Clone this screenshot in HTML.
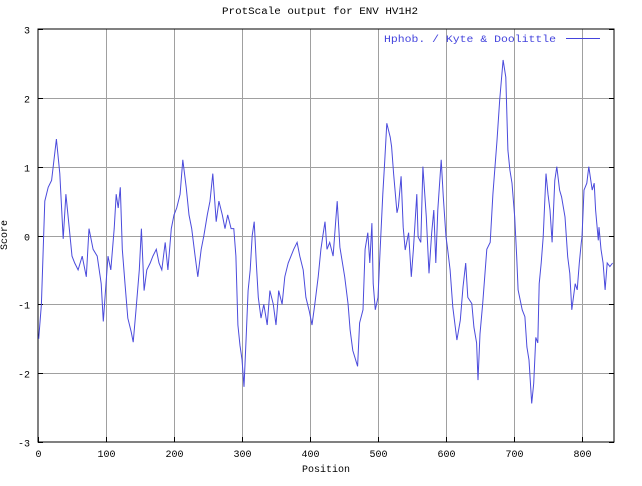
<!DOCTYPE html>
<html><head><meta charset="utf-8"><style>
body{margin:0;background:#fff;}
svg text{font-family:"Liberation Mono",monospace;font-size:10px;fill:#000;}
</style></head><body>
<svg width="642" height="481" xmlns="http://www.w3.org/2000/svg">
<g id="grid"></g>
<rect x="38" y="29" width="576" height="413" fill="none" stroke="#000" stroke-width="1"/>
<g id="axes"></g>
<text x="222" y="14" textLength="196" lengthAdjust="spacingAndGlyphs">ProtScale output for ENV HV1H2</text>
<text x="326" y="472" text-anchor="middle">Position</text>
<text x="7" y="235" text-anchor="middle" transform="rotate(-90 7 235)">Score</text>
<g>
<text x="384" y="42" textLength="172" lengthAdjust="spacingAndGlyphs" style="fill:#4444dd">Hphob. / Kyte &amp; Doolittle</text>
<line x1="566" y1="38.5" x2="600" y2="38.5" stroke="#4444dd" stroke-width="1"/>
</g>
<path id="series" fill="none" stroke="#4b4bdc" stroke-width="1"/>
</svg>
<script>
const xTicks=[0,100,200,300,400,500,600,700,800];
const yTicks=[-3,-2,-1,0,1,2,3];
const positions=[1,5,10,15,20,27,32,37,41,46,50,54,59,65,71,75,81,87,93,96,100,103,107,112,115,118,121,124,128,132,137,140,144,149,152,156,160,165,169,174,178,182,187,191,196,200,204,209,213,218,222,226,231,235,240,244,249,253,257,262,266,271,275,279,284,288,291,294,297,300,303,306,309,312,315,318,321,324,328,332,337,341,346,350,354,359,363,368,372,376,381,385,390,394,399,403,407,412,416,419,422,425,429,434,440,444,451,456,459,463,470,473,478,481,485,488,491,493,496,500,503,507,510,513,518,520,523,528,530,534,537,540,545,549,552,557,559,563,566,571,575,579,582,585,588,593,596,600,602,606,610,616,621,625,629,632,638,641,645,647,650,654,660,665,669,675,679,684,688,691,694,697,701,704,706,712,716,719,722,726,729,732,735,737,740,743,747,750,753,756,760,763,767,770,775,779,782,785,790,793,796,799,800,803,807,810,815,818,820,824,825,828,831,834,837,841,845];
const scores=[-1.5,-1.0,0.5,0.7,0.8,1.4,0.9,-0.05,0.6,0.1,-0.3,-0.4,-0.5,-0.3,-0.6,0.1,-0.2,-0.3,-0.7,-1.25,-0.7,-0.3,-0.5,0.1,0.6,0.4,0.7,-0.2,-0.7,-1.2,-1.4,-1.55,-1.1,-0.5,0.1,-0.8,-0.5,-0.4,-0.3,-0.2,-0.4,-0.5,-0.1,-0.5,0.1,0.3,0.4,0.6,1.1,0.7,0.3,0.1,-0.3,-0.6,-0.2,0.0,0.3,0.5,0.9,0.2,0.5,0.3,0.1,0.3,0.1,0.1,-0.3,-1.3,-1.6,-1.8,-2.2,-1.5,-0.8,-0.5,0.0,0.2,-0.4,-0.9,-1.2,-1.0,-1.3,-0.8,-1.0,-1.3,-0.8,-1.0,-0.6,-0.4,-0.3,-0.2,-0.1,-0.3,-0.5,-0.9,-1.1,-1.3,-1.0,-0.6,-0.2,0.0,0.2,-0.2,-0.1,-0.3,0.5,-0.17,-0.6,-1.0,-1.37,-1.67,-1.9,-1.27,-1.08,-0.2,0.04,-0.4,0.18,-0.7,-1.08,-0.9,-0.25,0.6,1.1,1.63,1.43,1.29,0.9,0.33,0.42,0.86,0.12,-0.21,0.04,-0.6,-0.2,0.6,-0.02,-0.1,1.0,0.27,-0.55,0.04,0.37,-0.4,0.37,1.1,0.56,-0.02,-0.17,-0.5,-1.04,-1.52,-1.23,-0.75,-0.4,-0.9,-0.99,-1.33,-1.56,-2.1,-1.43,-0.99,-0.2,-0.1,0.6,1.38,1.97,2.55,2.3,1.24,0.95,0.76,0.27,-0.31,-0.79,-1.08,-1.18,-1.62,-1.81,-2.44,-2.15,-1.48,-1.56,-0.7,-0.4,-0.02,0.9,0.6,0.37,-0.1,0.8,1.0,0.66,0.56,0.27,-0.31,-0.55,-1.08,-0.7,-0.79,-0.4,-0.1,-0.02,0.66,0.76,1.0,0.66,0.76,0.37,-0.07,0.12,-0.2,-0.4,-0.79,-0.4,-0.45,-0.4];
const X0=38,X1=614,Y0=442,Y1=29;
const xs=v=>X0+v*0.68;
const ys=v=>Y0-(v+3)*(Y0-Y1)/6;
const NS='http://www.w3.org/2000/svg';
const grid=document.getElementById('grid'),axes=document.getElementById('axes');
function mk(tag,attrs,parent){const e=document.createElementNS(NS,tag);for(const k in attrs)e.setAttribute(k,attrs[k]);parent.appendChild(e);return e;}
xTicks.forEach(t=>{const x=Math.round(xs(t))+0.5;
 if(t>0){const g=mk('line',{x1:x,x2:x,y1:Y1,y2:Y0,stroke:'#a0a0a0'},grid);
 
 }
 mk('line',{x1:x,x2:x,y1:Y0,y2:Y0-5,stroke:'#000'},axes);
 const l=mk('text',{x:x,y:Y0+15,'text-anchor':'middle'},axes);l.textContent=t;
 
 });
yTicks.forEach(t=>{const y=Math.round(ys(t))+0.5;
 if(t>-3&&t<3){const g=mk('line',{x1:X0,x2:X1,y1:y,y2:y,stroke:'#a0a0a0'},grid);
 
 }
 mk('line',{x1:X0,x2:X0+5,y1:y,y2:y,stroke:'#000'},axes);
 mk('line',{x1:X1,x2:X1-5,y1:y,y2:y,stroke:'#000'},axes);
 const l=mk('text',{x:X0-8,y:y+4,'text-anchor':'end'},axes);l.textContent=t;
 
 });
document.getElementById('series').setAttribute('d',positions.map((p,i)=>(i?'L':'M')+xs(p).toFixed(1)+' '+ys(scores[i]).toFixed(1)).join(' '));
</script>
</body></html>
